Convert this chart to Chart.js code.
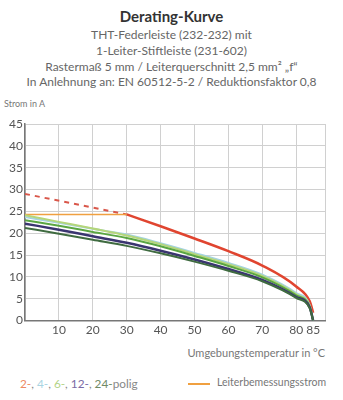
<!DOCTYPE html>
<html lang="de">
<head>
<meta charset="UTF-8" />
<title>Derating-Kurve</title>
<script src="https://cdn.jsdelivr.net/npm/chart.js"></script>
<style>
  body { margin: 0; width: 343px; height: 400px; background: #fff; font-family: Lato, "Noto Sans", sans-serif; color: #666; position: relative; overflow: hidden; }
  .kopf { position: absolute; left: 0; width: 343px; text-align: center; }
  #t1 { top: 7px; font-size: 15px; font-weight: bold; color: #333; }
  #t2 { top: 27px; font-size: 12px; line-height: 15.8px; color: #666; }
  #yLabel { position: absolute; left: 4px; top: 98px; font-size: 9px; color: #777; }
  #xLabel { position: absolute; right: 18px; top: 346px; font-size: 11px; color: #777; }
  #legPol { position: absolute; left: 20px; top: 376px; font-size: 11.8px; color: #888; }
  #legLine { position: absolute; left: 188px; top: 383px; width: 22px; height: 2px; background: #f0a040; }
  #legText { position: absolute; left: 217px; top: 376px; font-size: 10.5px; color: #777; }
  #wrap { position: absolute; left: 0; top: 107px; width: 343px; height: 232px; }
</style>
</head>
<body>
  <div class="kopf" id="t1">Derating-Kurve</div>
  <div class="kopf" id="t2">THT-Federleiste (232-232) mit<br>1-Leiter-Stiftleiste (231-602)<br>Rastermaß 5 mm / Leiterquerschnitt 2,5 mm² „f“<br>In Anlehnung an: EN 60512-5-2 / Reduktionsfaktor 0,8</div>
  <div id="yLabel">Strom in A</div>
  <div id="wrap"><canvas id="chart" width="343" height="232"></canvas></div>
  <div id="xLabel">Umgebungstemperatur in °C</div>
  <div id="legPol"><span style="color:#ee8a64">2-</span>, <span style="color:#a9d4e2">4-</span>, <span style="color:#b3d486">6-</span>, <span style="color:#7a6aa4">12-</span>, <span style="color:#6f8a66">24-</span>polig</div>
  <div id="legLine"></div>
  <div id="legText">Leiterbemessungsstrom</div>

<script>
// Umgebungstemperatur (°C)
const temps = [0, 10, 20, 30, 40, 50, 60, 70, 80, 84, 85];
// Ströme je Polzahl (A)
const pol4 = [23.7, 22.4, 21.0, 19.7, 17.7, 15.5, 13.2, 10.5, 6.3, 3.5, 0];
const pol6 = [24.1, 22.6, 21.1, 19.5, 17.5, 15.2, 12.9, 10.2, 6.0, 3.3, 0];
const polMid = [23.0, 21.7, 20.3, 18.9, 17.0, 14.8, 12.5, 9.9, 5.8, 3.2, 0];
const pol12 = [22.2, 20.8, 19.3, 17.8, 16.0, 14.0, 11.8, 9.3, 5.4, 3.0, 0];
const pol24 = [21.2, 19.9, 18.5, 17.1, 15.4, 13.5, 11.4, 9.0, 5.2, 2.8, 0];
// 2-polig: gestrichelter Anteil und Verlauf ab 30 °C
const pol2DashT = [0, 30];
const pol2Dash = [29.0, 24.3];
const pol2T = [30, 40, 50, 60, 70, 80, 84, 85];
const pol2 = [24.3, 21.6, 18.8, 15.9, 12.6, 7.8, 4.4, 1.8];
// Leiterbemessungsstrom
const nennT = [0, 30];
const nenn = [24.3, 24.3];

const xTicks = [0, 10, 20, 30, 40, 50, 60, 70, 80, 85, 88.5];
const yTicks = [0, 5, 10, 15, 20, 25, 30, 35, 40, 45];

const pts = (xs, ys) => xs.map((x, i) => ({ x: x, y: ys[i] }));
const line = (data, color, width, extra) => Object.assign({
  data: data, borderColor: color, borderWidth: width, pointRadius: 0,
  tension: 0.35, fill: false, cubicInterpolationMode: 'monotone'
}, extra || {});

new Chart(document.getElementById('chart'), {
  type: 'line',
  data: {
    datasets: [
      line(pts(temps, pol24), '#3f6b40', 2),
      line(pts(temps, pol12), '#3a3570', 2.5),
      line(pts(temps, polMid), '#5aa642', 2),
      line(pts(temps, pol6), '#b5d67a', 2),
      line(pts(temps, pol4), '#a5d3df', 2),
      line(pts(nennT, nenn), '#f0a040', 1.5, { tension: 0 }),
      line(pts(pol2DashT, pol2Dash), '#d9574a', 2, { borderDash: [5, 5], tension: 0 }),
      line(pts(pol2T, pol2), '#e04530', 2.5)
    ]
  },
  options: {
    responsive: false,
    animation: false,
    layout: { padding: { top: 17, right: 18, bottom: 0, left: 0 } },
    plugins: { legend: { display: false }, tooltip: { enabled: false } },
    scales: {
      x: {
        type: 'linear', min: 0, max: 88.5,
        afterBuildTicks: s => { s.ticks = xTicks.map(v => ({ value: v })); },
        ticks: {
          autoSkip: false, maxRotation: 0, color: '#555', padding: 2,
          font: { family: 'Lato', size: 12 },
          callback: v => (v === 0 || v === 88.5) ? '' : v
        },
        grid: { color: c => c.tick && c.tick.value === 85 ? 'rgba(0,0,0,0)' : '#d0d0d0', drawTicks: false, lineWidth: 1 },
        border: { color: '#777', width: 1.5 }
      },
      y: {
        min: 0, max: 45,
        afterBuildTicks: s => { s.ticks = yTicks.map(v => ({ value: v })); },
        afterFit: s => { s.width = 25; },
        ticks: { color: '#555', padding: 2, font: { family: 'Lato', size: 12 } },
        grid: { color: '#d0d0d0', drawTicks: false, lineWidth: 1 },
        border: { color: '#777', width: 1.5 }
      }
    }
  }
});
</script>
</body>
</html>
